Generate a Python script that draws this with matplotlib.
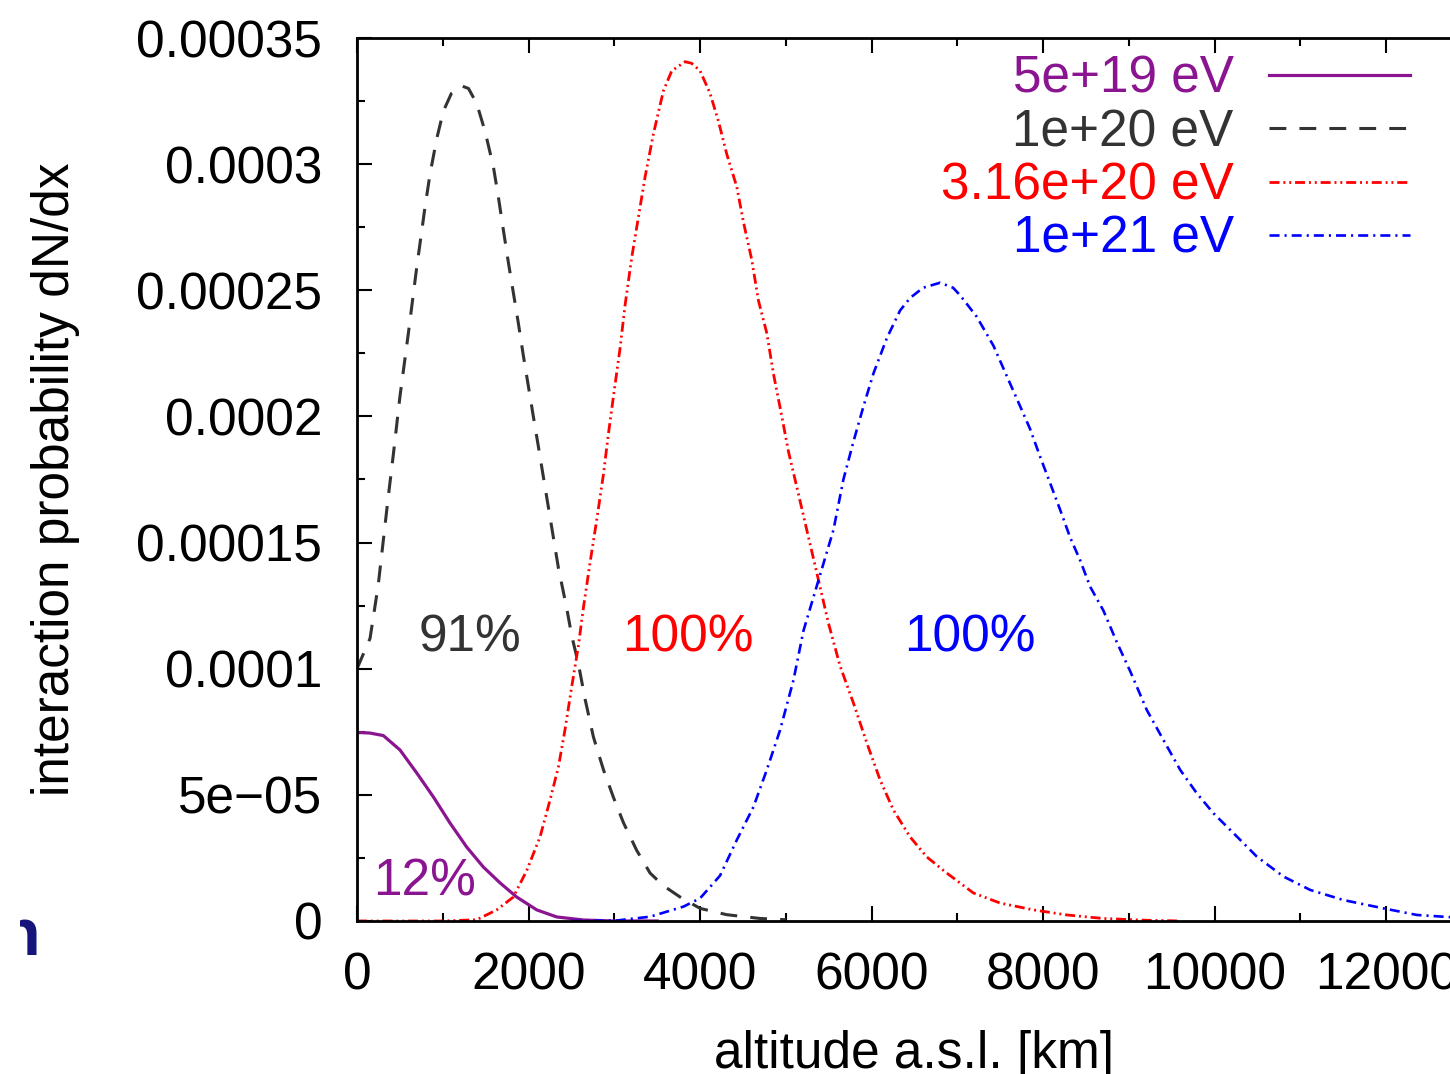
import numpy as np
import matplotlib
matplotlib.use("Agg")
import matplotlib.pyplot as plt
from matplotlib.ticker import MultipleLocator, FuncFormatter
from matplotlib.transforms import Bbox

plt.rcParams['font.family'] = ['Liberation Sans', 'DejaVu Sans']

# altitude [km] and dN/dx (in units of 1e-5) for each primary energy
alt_5e19 = [0, 35, 150, 307, 501, 696, 890, 1085, 1279, 1473, 1668, 1862, 2096, 2329, 2640, 3000, 3500]
dndx_5e19 = [7.45, 7.47, 7.45, 7.35, 6.78, 5.87, 4.92, 3.88, 2.93, 2.14, 1.51, 0.95, 0.44, 0.16, 0.04, 0.0, 0.0]

alt_1e20 = [0, 152, 247, 364, 424, 501, 599, 696, 793, 851, 929, 1007, 1100, 1221, 1300, 1396,
            1493, 1590, 1648, 1706, 1765, 1823, 1881, 1940, 1998, 2056, 2115, 2173, 2251, 2348,
            2445, 2504, 2581, 2659, 2756, 2873, 2990, 3106, 3261, 3417, 3572, 3767, 4000, 4311,
            4700, 5000]
dndx_1e20 = [10.0, 11.2, 13.3, 16.8, 18.5, 20.8, 23.3, 25.9, 28.3, 29.6, 31.0, 32.1, 32.8, 33.1, 33.0, 32.4,
             31.3, 29.9, 28.7, 27.4, 26.1, 24.9, 23.7, 22.4, 21.2, 20.0, 18.8, 17.6, 16.0, 14.0,
             12.4, 11.3, 10.2, 8.8, 7.3, 6.0, 4.9, 3.9, 2.8, 1.9, 1.4, 0.95, 0.5, 0.25,
             0.1, 0.05]

alt_316e20 = [0, 1000, 1396, 1629, 1823, 1979, 2134, 2251, 2348, 2426, 2504, 2581, 2639, 2717, 2795,
              2873, 2931, 2990, 3067, 3125, 3203, 3281, 3359, 3456, 3572, 3670, 3825, 3900, 4000,
              4117, 4214, 4311, 4428, 4506, 4603, 4680, 4778, 4855, 4953, 5031, 5128, 5244, 5361,
              5497, 5633, 5788, 5944, 6099, 6254, 6449, 6643, 6876, 7187, 7499, 7887, 8275, 8700,
              9200, 9600]
dndx_316e20 = [0.0, 0.0, 0.05, 0.44, 0.95, 2.0, 3.33, 4.8, 6.1, 7.6, 9.3, 10.9, 12.4, 14.2, 15.9,
               17.7, 19.3, 20.8, 22.7, 24.4, 26.3, 27.9, 29.5, 31.2, 32.9, 33.7, 34.06, 34.0, 33.7,
               32.8, 31.7, 30.4, 29.1, 27.7, 26.2, 24.6, 23.3, 21.7, 20.0, 18.6, 17.2, 15.5, 13.8,
               11.8, 10.1, 8.64, 7.06, 5.59, 4.40, 3.33, 2.54, 1.90, 1.11, 0.71, 0.44, 0.24, 0.1,
               0.03, 0.0]

alt_1e21 = [2500, 3028, 3417, 3806, 4000, 4233, 4428, 4622, 4778, 4933, 5089, 5205, 5380, 5555, 5671,
            5788, 5905, 6021, 6177, 6332, 6450, 6600, 6799, 6950, 7032, 7226, 7421, 7576, 7732, 7848,
            7965, 8082, 8198, 8315, 8431, 8548, 8703, 8859, 9015, 9209, 9403, 9598, 9792, 9986,
            10220, 10492, 10803, 11114, 11502, 11969, 12357, 12668, 13000]
dndx_1e21 = [0.0, 0.02, 0.17, 0.57, 0.9, 1.8, 3.21, 4.52, 5.99, 7.57, 9.55, 11.5, 13.5, 15.5, 17.5,
             19.0, 20.4, 21.7, 23.1, 24.2, 24.7, 25.1, 25.3, 25.1, 24.8, 23.95, 22.8, 21.6, 20.4, 19.5,
             18.4, 17.35, 16.3, 15.2, 14.3, 13.25, 12.3, 11.05, 9.9, 8.36, 7.17, 5.99, 5.06, 4.27,
             3.48, 2.55, 1.76, 1.23, 0.83, 0.50, 0.24, 0.17, 0.1]

labels = ["5e+19 eV", "1e+20 eV", "3.16e+20 eV", "1e+21 eV"]
colors = ["#8b1591", "#333333", "#ff0000", "#0000ff"]

# fraction of showers interacting, with label position (km, 1e-5)
pct_text = ["12%", "91%", "100%", "100%"]
pct_x = [793, 1318, 3860, 7149]
pct_y = [1.55, 11.2, 11.2, 11.2]

fs = 37
fig = plt.figure(figsize=(14.5, 10.74), dpi=100)
ax = fig.add_axes([357 / 1450, 153 / 1074, 1115 / 1450, 883 / 1074])

scale = 1e-5
ax.plot(alt_5e19, np.array(dndx_5e19) * scale, color=colors[0], lw=2.3,
        label=labels[0])
ax.plot(alt_1e20, np.array(dndx_1e20) * scale, color=colors[1], lw=2.2,
        dashes=(5.5, 4.3), label=labels[1])
ax.plot(alt_316e20, np.array(dndx_316e20) * scale, color=colors[2], lw=2.0,
        dashes=(3.6, 1.4, 0.7, 1.4, 0.7, 1.4), label=labels[2])
ax.plot(alt_1e21, np.array(dndx_1e21) * scale, color=colors[3], lw=1.9,
        dashes=(3.8, 1.9, 0.8, 1.9), label=labels[3])

for t, x, y, c in zip(pct_text, pct_x, pct_y, colors):
    ax.text(x, y * scale, t, color=c, fontsize=fs, ha='center', va='center')

ax.set_xlim(0, 13000)
ax.set_ylim(0, 0.00035)
ax.xaxis.set_major_locator(MultipleLocator(2000))
ax.xaxis.set_minor_locator(MultipleLocator(1000))
ax.yaxis.set_major_locator(MultipleLocator(5e-5))
ax.yaxis.set_minor_locator(MultipleLocator(2.5e-5))
ax.yaxis.set_major_formatter(FuncFormatter(lambda v, p: ('%g' % v).replace('-', '\u2212')))
ax.xaxis.set_major_formatter(FuncFormatter(lambda v, p: '%g' % v))

ax.tick_params(which='both', direction='in', top=True, right=True, width=1.5,
               labelsize=fs, colors='black')
ax.tick_params(which='major', length=11)
ax.tick_params(which='minor', length=6)
ax.tick_params(axis='y', pad=25)
ax.tick_params(axis='x', pad=22)
for s in ax.spines.values():
    s.set_linewidth(2.0)

ax.set_xlabel("altitude a.s.l. [km]", fontsize=fs)
ax.set_ylabel("interaction probability dN/dx", fontsize=fs)
ax.xaxis.set_label_coords(0.5, -0.123)
ax.yaxis.set_label_coords(-0.248, 0.5)

leg = ax.legend(loc='upper right', bbox_to_anchor=(0.9444, 0.981), frameon=False,
                markerfirst=False, fontsize=fs, handlelength=2.75, handletextpad=0.68,
                labelspacing=0.085, borderpad=0, borderaxespad=0, labelcolor='linecolor')

# piece of a neighbouring glyph at the left margin
nt = fig.text(40 / 1450, 1 - 955 / 1074, "n", color="#14147a", fontsize=48,
              fontweight='bold', ha='right', va='baseline')
nt.set_clip_box(Bbox.from_extents(20, 0, 60, 1074))
nt.set_clip_on(True)

fig.savefig("out.png", dpi=100)
